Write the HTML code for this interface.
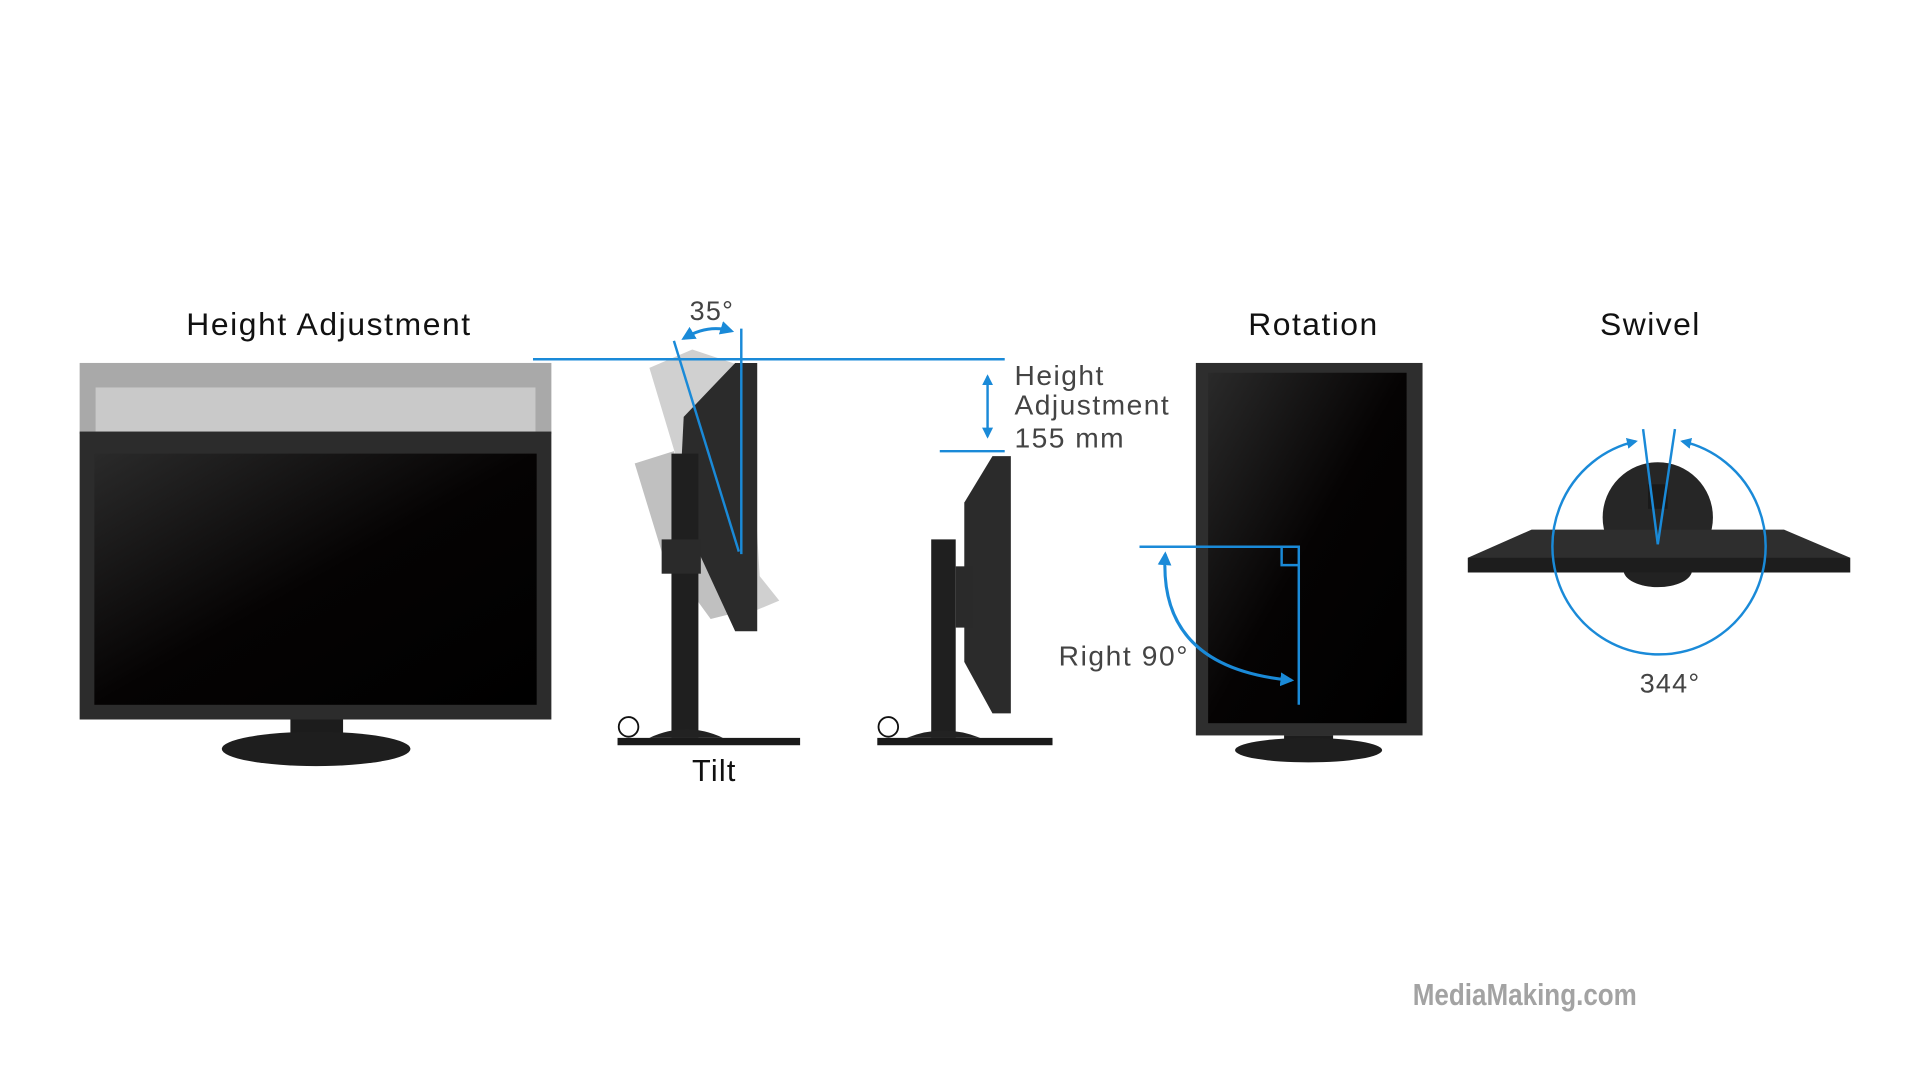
<!DOCTYPE html>
<html><head><meta charset="utf-8"><style>
html,body{margin:0;padding:0;background:#fff;width:1920px;height:1080px;overflow:hidden}
svg{display:block}
text{font-family:"Liberation Sans",sans-serif}
</style></head><body>
<svg width="1920" height="1080" viewBox="0 0 1567 881" xmlns="http://www.w3.org/2000/svg">
<defs>
<linearGradient id="scr" x1="0" y1="0" x2="1" y2="1"><stop offset="0" stop-color="#2a2a2a"/><stop offset="0.5" stop-color="#050303"/><stop offset="1" stop-color="#000"/></linearGradient>
<marker id="ah" viewBox="0 0 10 10" refX="8" refY="5" markerWidth="4.5" markerHeight="4.5" orient="auto-start-reverse"><path d="M0,0L10,5L0,10z" fill="#1a8ad8"/></marker>
</defs>
<rect width="1567" height="881" fill="#fff"/>
<text x="152" y="273" font-size="26" fill="#111" letter-spacing="1.3">Height Adjustment</text>
<text x="1072" y="273" font-size="26" fill="#111" text-anchor="middle" letter-spacing="1.2">Rotation</text>
<text x="1347" y="273" font-size="26" fill="#111" text-anchor="middle" letter-spacing="1.2">Swivel</text>

<rect x="65" y="296" width="385" height="58" fill="#a9a9a9"/>
<rect x="78" y="316" width="359" height="36" fill="#c9c9c9"/>
<rect x="65" y="352" width="385" height="235" fill="#2c2c2c"/>
<rect x="77" y="370" width="361" height="205" fill="url(#scr)"/>
<rect x="237" y="587" width="43" height="14" fill="#1c1c1c"/>
<ellipse cx="258" cy="611" rx="77" ry="14" fill="#1e1e1e"/>

<polygon points="530,300 565,285 610,300 620,470 636,490 600,505 560,400" fill="#c4c4c4" opacity="0.8"/>
<polygon points="518,378 550,368 570,440 600,500 580,505 540,450" fill="#b0b0b0" opacity="0.8"/>
<polygon points="558,340 600,296 618,296 618,515 600,515 570,450 556,380" fill="#2b2b2b"/>
<rect x="548" y="370" width="22" height="232" fill="#1f1f1f"/>
<rect x="540" y="440" width="32" height="28" fill="#2a2a2a"/>
<path d="M530,602 Q560,588 590,602 Z" fill="#222"/>
<rect x="504" y="602" width="149" height="6" fill="#1a1a1a"/>
<circle cx="513" cy="593" r="8" fill="none" stroke="#111" stroke-width="1.5"/>
<text x="583" y="637" font-size="25" fill="#111" text-anchor="middle" letter-spacing="1">Tilt</text>
<text x="581" y="261" font-size="22" fill="#444" text-anchor="middle" letter-spacing="1">35°</text>
<line x1="605" y1="268" x2="605" y2="452" stroke="#1a8ad8" stroke-width="2"/>
<line x1="550" y1="278" x2="603" y2="450" stroke="#1a8ad8" stroke-width="2"/>
<path d="M558,276 Q578,264 597,270" fill="none" stroke="#1a8ad8" stroke-width="2.5" marker-start="url(#ah)" marker-end="url(#ah)"/>
<line x1="435" y1="293" x2="820" y2="293" stroke="#1a8ad8" stroke-width="2"/>

<polygon points="787,410 810,372 825,372 825,582 810,582 787,540" fill="#2b2b2b"/>
<rect x="760" y="440" width="20" height="162" fill="#1f1f1f"/>
<rect x="780" y="462" width="14" height="50" fill="#2a2a2a"/>
<path d="M740,602 Q770,590 800,602 Z" fill="#222"/>
<rect x="716" y="602" width="143" height="6" fill="#1a1a1a"/>
<circle cx="725" cy="593" r="8" fill="none" stroke="#111" stroke-width="1.5"/>
<line x1="767" y1="368" x2="820" y2="368" stroke="#1a8ad8" stroke-width="2"/>
<line x1="806" y1="307" x2="806" y2="356" stroke="#1a8ad8" stroke-width="2" marker-start="url(#ah)" marker-end="url(#ah)"/>
<text x="828" y="314" font-size="23" fill="#444" letter-spacing="1.2">Height</text>
<text x="828" y="338" font-size="23" fill="#444" letter-spacing="1.2">Adjustment</text>
<text x="828" y="365" font-size="23" fill="#444" letter-spacing="1.2">155 mm</text>

<rect x="976" y="296" width="185" height="304" fill="#2e2e2e"/>
<rect x="986" y="304" width="162" height="286" fill="url(#scr)"/>
<rect x="1048" y="600" width="40" height="6" fill="#1c1c1c"/>
<ellipse cx="1068" cy="612" rx="60" ry="10" fill="#1e1e1e"/>
<polyline points="930,446 1060,446 1060,575" fill="none" stroke="#1a8ad8" stroke-width="2"/>
<polyline points="1046,446 1046,461 1060,461" fill="none" stroke="#1a8ad8" stroke-width="2"/>
<path d="M951,452 Q945,545 1054,555" fill="none" stroke="#1a8ad8" stroke-width="2.5" marker-start="url(#ah)" marker-end="url(#ah)"/>
<text x="864" y="543" font-size="23" fill="#444" letter-spacing="1.3">Right 90°</text>

<circle cx="1353" cy="422" r="45" fill="#262626"/>
<ellipse cx="1353" cy="465" rx="28" ry="14" fill="#222"/>
<polygon points="1198,455 1250,432 1456,432 1510,455 1510,467 1198,467" fill="#2e2e2e"/>
<rect x="1198" y="455" width="312" height="12" fill="#1d1d1d"/>
<rect x="1345" y="395" width="16" height="20" fill="#1a1a1a"/>
<path d="M1335,360 A87,88 0 1 0 1373,360" fill="none" stroke="#1a8ad8" stroke-width="2" marker-start="url(#ah)" marker-end="url(#ah)"/>
<line x1="1341" y1="350" x2="1353" y2="444" stroke="#1a8ad8" stroke-width="2"/>
<line x1="1367" y1="350" x2="1353" y2="444" stroke="#1a8ad8" stroke-width="2"/>
<text x="1363" y="565" font-size="22" fill="#444" text-anchor="middle" letter-spacing="1">344°</text>

<text x="1153" y="820" font-size="25" font-weight="bold" fill="#a3a3a3" transform="translate(1153 0) scale(0.85 1) translate(-1153 0)">MediaMaking.com</text>
</svg>
</body></html>
